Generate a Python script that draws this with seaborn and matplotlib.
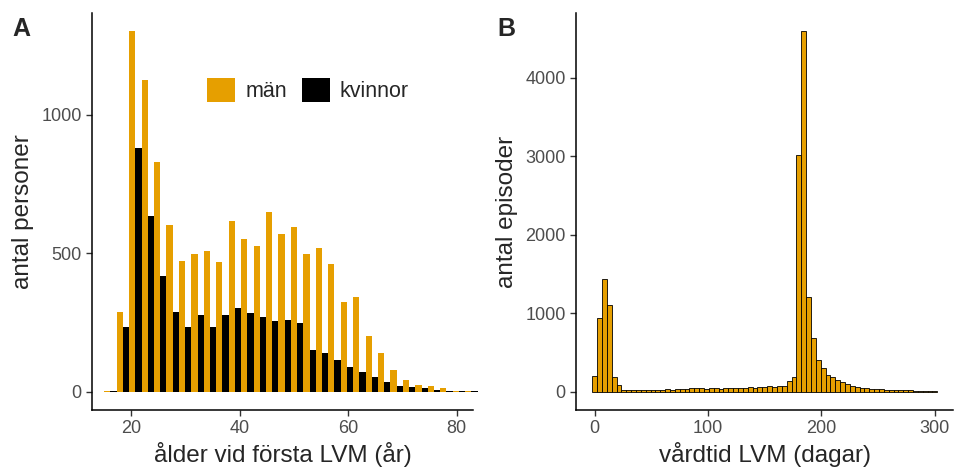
import numpy as np
import pandas as pd
import matplotlib
matplotlib.use("Agg")
import matplotlib.pyplot as plt
import seaborn as sns

# Panel A: persons per age bin (30 bins), men and women
age_start = 15.05
age_width = 2.293
men_counts = [4, 288, 1303, 1127, 831, 604, 473, 497, 509, 471,
              616, 551, 526, 649, 569, 596, 499, 521, 461, 324,
              342, 202, 141, 79, 43, 25, 21, 13, 5, 5]
women_counts = [3, 234, 879, 634, 419, 290, 236, 278, 234, 278,
                303, 284, 272, 256, 260, 248, 150, 141, 117, 91,
                71, 53, 37, 21, 19, 13, 7, 5, 4, 3]
sex_labels = ["män", "kvinnor"]
sex_colors = ["#E69F00", "#000000"]

# Panel B: episodes per care-time bin (71 bins)
day_width = 300 / 70
episode_counts = [200, 940, 1440, 1100, 195, 85, 30, 22, 20, 22,
                  25, 28, 25, 27, 30, 40, 30, 42, 38, 40,
                  45, 50, 45, 42, 48, 45, 42, 48, 45, 50,
                  48, 45, 60, 55, 62, 58, 70, 65, 72, 75,
                  140, 195, 3015, 4592, 1210, 680, 410, 305, 220, 185,
                  148, 122, 95, 76, 64, 54, 46, 42, 38, 35,
                  30, 27, 24, 26, 22, 24, 16, 14, 10, 8, 6]

age_edges = age_start + age_width * np.arange(len(men_counts) + 1)
age_mid = age_edges[:-1] + age_width / 2
df_age = pd.DataFrame({
    "age": np.concatenate([age_mid, age_mid]),
    "n": men_counts + women_counts,
    "sex": [sex_labels[0]] * len(men_counts) + [sex_labels[1]] * len(women_counts),
})

day_edges = day_width * (np.arange(len(episode_counts) + 1) - 0.5)
day_mid = day_edges[:-1] + day_width / 2
df_day = pd.DataFrame({"days": day_mid, "n": episode_counts})

sns.set_style("ticks")
plt.rcParams["font.family"] = ["Liberation Sans", "DejaVu Sans"]

W, H = 955, 469
fig = plt.figure(figsize=(W / 100, H / 100), dpi=100)
ax1 = fig.add_axes([92 / W, 1 - 410 / H, 381 / W, 397 / H])
ax2 = fig.add_axes([576 / W, 1 - 410 / H, 377 / W, 397 / H])

sns.histplot(data=df_age, x="age", weights="n", hue="sex", hue_order=sex_labels,
             palette=dict(zip(sex_labels, sex_colors)), bins=list(age_edges),
             multiple="dodge", shrink=1, linewidth=0, alpha=1, ax=ax1)
for p in ax1.patches:
    p.set_clip_on(False)

sns.histplot(data=df_day, x="days", weights="n", bins=list(day_edges),
             color="#E69F00", edgecolor="black", linewidth=0.6, alpha=1, ax=ax2)

ax1.set_xlim(12.8, 83.0)
ax1.set_ylim(-65, 1368)
ax1.set_xticks([20, 40, 60, 80])
ax1.set_yticks([0, 500, 1000])
ax1.set_xlabel("ålder vid första LVM (år)", fontsize=17.5, labelpad=3)
ax1.set_ylabel("antal personer", fontsize=17.5, labelpad=5)

ax2.set_xlim(-16.5, 316)
ax2.set_ylim(-230, 4822)
ax2.set_xticks([0, 100, 200, 300])
ax2.set_yticks([0, 1000, 2000, 3000, 4000])
ax2.set_xlabel("vårdtid LVM (dagar)", fontsize=17.5, labelpad=3)
ax2.set_ylabel("antal episoder", fontsize=17.5, labelpad=5)

for ax in (ax1, ax2):
    sns.despine(ax=ax)
    for s in ("left", "bottom"):
        ax.spines[s].set_linewidth(1.1)
        ax.spines[s].set_color("black")
    ax.tick_params(axis="both", labelsize=13, labelcolor="#4D4D4D",
                   color="#333333", length=4.5, width=1.0, pad=3)

sns.move_legend(ax1, "center", bbox_to_anchor=(0.567, 0.806), ncol=2,
                title=None, frameon=False, fontsize=15.5,
                handlelength=1.3, handleheight=1.3, handletextpad=0.45,
                columnspacing=0.7)

fig.text(12 / W, 1 - 29 / H, "A", fontsize=18, fontweight="bold", va="center")
fig.text(497 / W, 1 - 29 / H, "B", fontsize=18, fontweight="bold", va="center")

fig.savefig("out.png", dpi=100)
